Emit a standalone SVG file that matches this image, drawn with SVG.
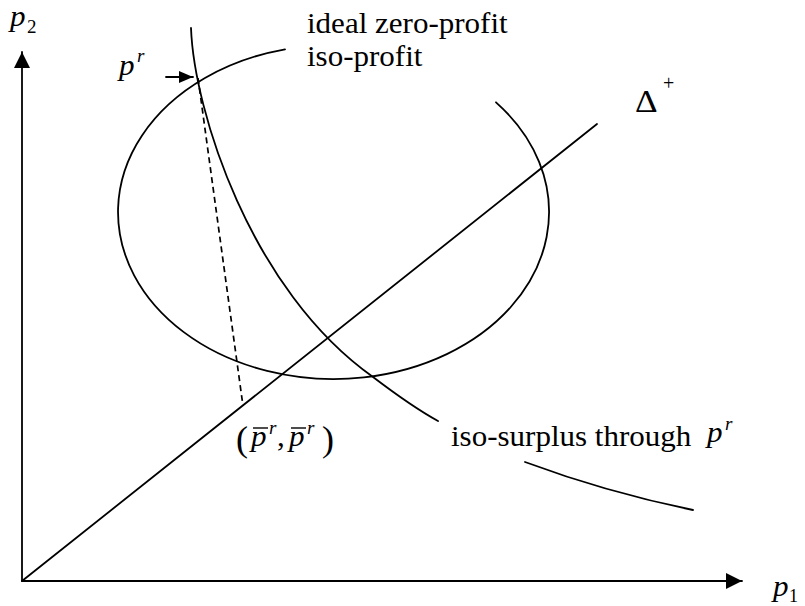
<svg xmlns="http://www.w3.org/2000/svg" width="805" height="606" viewBox="0 0 805 606">
<style>
.ln{fill:none;stroke:#000;stroke-width:1.8;stroke-linecap:round}
.dash{fill:none;stroke:#000;stroke-width:1.7;stroke-dasharray:6 4}
.t{font-family:"Liberation Serif","Times New Roman",serif;font-size:29px;fill:#000}
.m{font-family:"Liberation Serif","Times New Roman",serif;font-style:italic;font-size:29px;fill:#000}
.s{font-family:"Liberation Serif","Times New Roman",serif;font-style:italic;font-size:19px;fill:#000}
.su{font-family:"Liberation Serif","Times New Roman",serif;font-size:19px;fill:#000}
</style>
<defs>
<marker id="ah" viewBox="0 0 16 16" refX="16" refY="8" markerWidth="17" markerHeight="16" markerUnits="userSpaceOnUse" orient="auto"><path d="M0,0 L16,8 L0,16 z" fill="#000"/></marker>
<marker id="ahs" viewBox="0 0 14 12" refX="14" refY="6" markerWidth="14" markerHeight="12" markerUnits="userSpaceOnUse" orient="auto"><path d="M0,0 L14,6 L0,12 z" fill="#000"/></marker>
</defs>
<rect width="805" height="606" fill="#fff"/>
<g id="axes">
<line class="ln" x1="22" y1="581" x2="22" y2="52" marker-end="url(#ah)"/>
<line class="ln" x1="22" y1="581" x2="742" y2="581" marker-end="url(#ah)"/>
</g>
<g id="connectors">
<line id="diagonal" class="ln" x1="22" y1="581" x2="597" y2="124"/>
<path id="isoprofit" class="ln" d="M285,49.3 A215.5,167 0 1 0 496,102.3"/>
<path id="isosurplus-a" class="ln" d="M191,28 C194,110 250,290 373,377 C398,396 418,410 438,421"/>
<path id="isosurplus-b" class="ln" d="M525,462 C560,475 620,495 693,510"/>
<line id="dashed" class="dash" x1="198" y1="78" x2="243" y2="406"/>
<line id="pr-arrow" class="ln" x1="166" y1="77" x2="193" y2="77" marker-end="url(#ahs)"/>
</g>
<g id="label-p2">
<text class="m" transform="translate(10,26) scale(1.07,1)">p</text>
<text class="su" transform="translate(27,33)">2</text>
</g>
<g id="label-p1">
<text class="m" transform="translate(773,596) scale(1.07,1)">p</text>
<text class="su" style="font-size:18px" transform="translate(789,602)">1</text>
</g>
<g id="label-pr">
<text class="m" transform="translate(119,75) scale(1.07,1)">p</text>
<text class="s" transform="translate(137,62)">r</text>
</g>
<g id="label-ideal">
<text class="t" transform="translate(307,33) scale(1.07,1)">ideal zero-profit</text>
<text class="t" transform="translate(307,66) scale(1.07,1)">iso-profit</text>
</g>
<g id="label-delta">
<text class="t" style="font-size:32px" transform="translate(635,112) scale(1.1,1)">Δ</text>
<text class="su" style="font-size:20px" transform="translate(663,90)">+</text>
</g>
<g id="label-pbar">
<text class="t" style="font-size:36px" transform="translate(236,451)">(</text>
<text class="m" transform="translate(251,446) scale(1.07,1)">p</text>
<line x1="253" y1="428" x2="268" y2="428" stroke="#000" stroke-width="1.4"/>
<text class="s" transform="translate(269,434)">r</text>
<text class="t" transform="translate(277,446) scale(1.07,1)">,</text>
<text class="m" transform="translate(289,446) scale(1.07,1)">p</text>
<line x1="291" y1="428" x2="306" y2="428" stroke="#000" stroke-width="1.4"/>
<text class="s" transform="translate(307,434)">r</text>
<text class="t" style="font-size:36px" transform="translate(322,451)">)</text>
</g>
<g id="label-isosurplus">
<text class="t" transform="translate(451,446) scale(1.07,1)">iso-surplus through</text>
<text class="m" transform="translate(707,442) scale(1.07,1)">p</text>
<text class="s" transform="translate(725,430)">r</text>
</g>
</svg>
